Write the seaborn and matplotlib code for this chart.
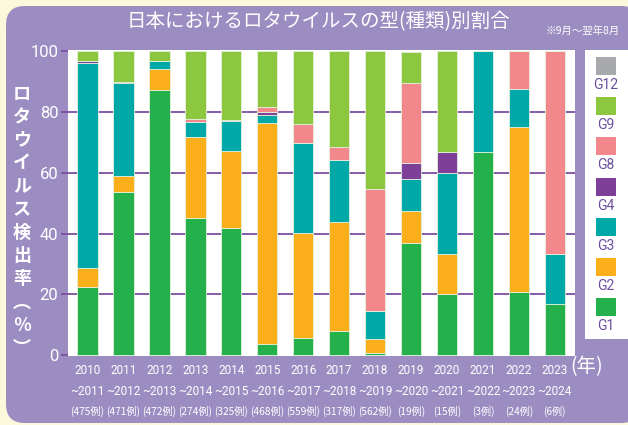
import numpy as np
import pandas as pd
import matplotlib
matplotlib.use('Agg')
import matplotlib.pyplot as plt
import matplotlib.transforms as mtransforms
from matplotlib.patches import FancyBboxPatch, Rectangle
import seaborn as sns

# season start years, case counts
seasons = [2010, 2011, 2012, 2013, 2014, 2015, 2016, 2017, 2018, 2019, 2020, 2021, 2022, 2023]
cases = [475, 471, 472, 274, 325, 468, 559, 317, 562, 19, 15, 3, 24, 6]

# detection share (%) per genotype
g1 = [22.5, 53.7, 87.3, 45.0, 41.7, 3.5, 5.7, 8.0, 0.8, 36.8, 20.0, 66.7, 20.8, 16.7]
g2 = [6.1, 5.2, 6.8, 26.9, 25.4, 73.0, 34.4, 35.7, 4.4, 10.5, 13.3, 0.0, 54.2, 0.0]
g3 = [67.5, 30.6, 2.7, 4.8, 9.9, 2.4, 29.7, 20.5, 9.4, 10.5, 26.7, 33.3, 12.5, 16.7]
g4 = [0.7, 0.4, 0.0, 0.0, 0.0, 1.0, 0.0, 0.0, 0.0, 5.3, 6.7, 0.0, 0.0, 0.0]
g8 = [0.0, 0.0, 0.0, 1.1, 0.3, 1.8, 6.4, 4.3, 39.9, 26.3, 0.0, 0.0, 12.5, 66.6]
g9 = [3.2, 10.1, 3.2, 22.2, 22.7, 18.3, 23.8, 31.5, 45.5, 10.5, 33.3, 0.0, 0.0, 0.0]
g12 = [0.0] * 14

types = ['G12', 'G9', 'G8', 'G4', 'G3', 'G2', 'G1']
colors = ['#a7a9ac', '#8dc63f', '#f3888c', '#7d3f98', '#00a8a8', '#fbb01b', '#24b14c']

BG = '#faf9dc'
PANEL = '#9b8dc2'
GRID = '#7b4fa0'
LEGEND_TXT = '#6b4f9e'
CJK = ['Noto Sans CJK JP', 'DejaVu Sans']
NUM = ['Roboto', 'DejaVu Sans']

series = {'G12': g12, 'G9': g9, 'G8': g8, 'G4': g4, 'G3': g3, 'G2': g2, 'G1': g1}
rows = []
for t, vals in series.items():
    for i, v in enumerate(vals):
        if v > 0:
            rows.append({'idx': i, 'type': t, 'pct': v})
df = pd.DataFrame(rows)

W, H = 628, 425


def fx(x):
    return x / W


def fy(y):
    return 1 - y / H


fig = plt.figure(figsize=(W / 100, H / 100), dpi=100)
fig.patch.set_facecolor(BG)
fig.patches.append(FancyBboxPatch((fx(6), fy(423)), fx(640) - fx(6), fy(6) - fy(423),
                                  boxstyle='round,pad=0,rounding_size=0.03',
                                  transform=fig.transFigure, facecolor=PANEL,
                                  edgecolor='none', zorder=-5, mutation_aspect=W / H))

ax = fig.add_axes([fx(68), fy(356), fx(575) - fx(68), fy(50) - fy(356)])
ax.set_facecolor('white')
for y in [20, 40, 60, 80]:
    ax.axhline(y, color=GRID, lw=1.3, zorder=0)

sns.histplot(data=df, x='idx', hue='type', weights='pct', multiple='stack',
             discrete=True, shrink=0.57, hue_order=types,
             palette=dict(zip(types, colors)), alpha=1,
             edgecolor='#e3f0dc', linewidth=0.6, legend=False, ax=ax, zorder=2)

ax.set_xlim(-0.54, 13.56)
ax.set_ylim(-0.3, 100.4)
for s in ax.spines.values():
    s.set_visible(False)
ax.set_xlabel('')
ax.set_ylabel('')

ax.set_yticks([0, 20, 40, 60, 80, 100])
ax.tick_params(axis='y', colors=GRID, length=5, width=1.3, pad=2)
for lab in ax.get_yticklabels():
    lab.set_color('white')
    lab.set_fontsize(12)
    lab.set_family(NUM)

ax.set_xticks(range(len(seasons)))
ax.set_xticklabels([f'{s}\n~{s + 1}' for s in seasons], color='white',
                   fontsize=8.5, linespacing=1.75, family=NUM)
ax.tick_params(axis='x', length=0, pad=6)

trans = mtransforms.blended_transform_factory(ax.transData, fig.transFigure)
for i, n in enumerate(cases):
    ax.text(i, fy(411), f'({n}例)', transform=trans, ha='center', va='center',
            color='white', fontsize=7.3, family=CJK)

fig.text(fx(587), fy(367), '(年)', ha='center', va='center', color='white',
         fontsize=14, family=CJK)

# title and note
fig.text(fx(318), fy(22), '日本におけるロタウイルスの型(種類)別割合', ha='center',
         va='center', color='white', fontsize=14, family=CJK)
fig.text(fx(583), fy(31), '※9月〜翌年8月', ha='center', va='center',
         color='white', fontsize=7.5, family=CJK)

# vertical y label
ylab = '\n'.join(list('ロタウイルス検出率') + ['︵', '％', '︶'])
fig.text(fx(22), fy(221), ylab, ha='center', va='center', color='white',
         fontsize=13, linespacing=1.28, family=CJK, fontweight='bold')

# legend box
lax = fig.add_axes([fx(585), fy(339), fx(640) - fx(585), fy(50) - fy(339)])
lax.set_xlim(585, 640)
lax.set_ylim(339, 50)
lax.set_facecolor('white')
lax.set_xticks([])
lax.set_yticks([])
for s in lax.spines.values():
    s.set_visible(False)
for k, (t, c) in enumerate(zip(types, colors)):
    top = 57 + k * 40.2
    lax.add_patch(Rectangle((596, top), 20, 18, facecolor=c, edgecolor='none'))
    lax.text(606, top + 28, t, ha='center', va='center', color=LEGEND_TXT,
             fontsize=10, family=NUM)

fig.savefig('out.png', dpi=100, facecolor=BG)
